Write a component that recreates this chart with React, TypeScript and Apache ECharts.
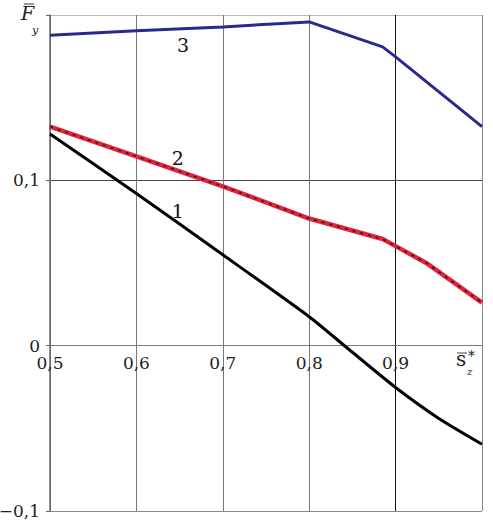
import React, { useEffect, useRef } from 'react';
import * as echarts from 'echarts';

const xMin = 0.5;
const xMax = 1.0;
const yMin = -0.1;
const yMax = 0.2;
const tickStep = 0.1;

const curve1X = [0.5, 0.6, 0.7, 0.8, 0.85, 0.9, 0.95, 1.0];
const curve1Y = [0.128, 0.092, 0.055, 0.0175, -0.004, -0.0253, -0.044, -0.0596];
const curve2X = [0.5, 0.6, 0.7, 0.8, 0.885, 0.9, 0.935, 1.0];
const curve2Y = [0.1325, 0.1145, 0.0964, 0.0769, 0.0645, 0.0602, 0.0502, 0.026];
const curve3X = [0.5, 0.6, 0.7, 0.8, 0.885, 0.9, 1.0];
const curve3Y = [0.1877, 0.1904, 0.1928, 0.1958, 0.1807, 0.1747, 0.1325];

const curveNames = ['1', '2', '3'];
const labelPos = [
  [0.648, 0.0813],
  [0.648, 0.1133],
  [0.654, 0.182],
];

const FONT = '"DejaVu Serif", "Liberation Serif", serif';

const GRID_TOP = 15;
const GRID_BOTTOM = 16;
const CHART_H = 527;

const zip = (xs: number[], ys: number[]) => xs.map((x, i) => [x, ys[i]]);

const fmt = (v: number) => {
  const r = Math.round(v * 10) / 10;
  if (r === 0) return '0';
  const s = Math.abs(r).toFixed(1).replace('.', ',');
  return r < 0 ? '\u2212' + s : s;
};

const nameLabel = (i: number) => ({
  symbol: 'circle',
  symbolSize: 0,
  silent: true,
  data: [
    {
      coord: labelPos[i],
      label: {
        show: true,
        formatter: curveNames[i],
        position: 'inside',
        color: '#111',
        fontFamily: FONT,
        fontSize: 19,
      },
    },
  ],
});

export default function App() {
  const ref = useRef<HTMLDivElement>(null);
  useEffect(() => {
    if (!ref.current) return;
    const chart = echarts.init(ref.current, undefined, { renderer: 'svg' });
    const plotH = CHART_H - GRID_TOP - GRID_BOTTOM;
    // distance from the bottom edge of the grid up to the zero line
    const zeroOffset = (plotH * (0 - yMin)) / (yMax - yMin);
    chart.setOption({
      animation: false,
      backgroundColor: '#fff',
      grid: {
        left: 50,
        right: 11,
        top: GRID_TOP,
        bottom: GRID_BOTTOM,
        containLabel: false,
        outerBoundsMode: 'none',
      },
      xAxis: {
        type: 'value',
        min: xMin,
        max: xMax,
        interval: tickStep,
        position: 'bottom',
        offset: -zeroOffset,
        axisLine: { show: true, onZero: false, lineStyle: { color: '#777', width: 1 } },
        axisTick: { show: false },
        axisLabel: {
          margin: 9,
          color: '#222',
          fontFamily: FONT,
          fontSize: 17,
          formatter: (v: number) => (v > 0.95 ? '' : fmt(v)),
        },
        splitLine: {
          show: true,
          lineStyle: { color: ['#777', '#777', '#777', '#777', '#111', '#888'], width: 1 },
        },
      },
      yAxis: {
        type: 'value',
        min: yMin,
        max: yMax,
        interval: tickStep,
        axisLine: { show: true, lineStyle: { color: '#666', width: 1.5 } },
        axisTick: { show: true, length: 4, lineStyle: { color: '#666' } },
        axisLabel: {
          margin: 10,
          color: '#222',
          fontFamily: FONT,
          fontSize: 17,
          formatter: (v: number) => (v > 0.15 ? '' : fmt(v)),
        },
        splitLine: {
          show: true,
          lineStyle: { color: ['#888', '#777', '#444', '#bbb'], width: 1 },
        },
      },
      series: [
        {
          type: 'line',
          name: curveNames[0],
          data: zip(curve1X, curve1Y),
          showSymbol: false,
          smooth: 0.2,
          lineStyle: { color: '#000', width: 3 },
          markPoint: nameLabel(0),
          z: 3,
        },
        {
          type: 'line',
          name: curveNames[1],
          data: zip(curve2X, curve2Y),
          showSymbol: false,
          lineStyle: { color: '#e8213a', width: 4.5 },
          markPoint: nameLabel(1),
          z: 3,
        },
        {
          type: 'line',
          name: curveNames[1] + '-dash',
          data: zip(curve2X, curve2Y),
          showSymbol: false,
          lineStyle: { color: '#222', width: 1.6, type: [3, 5] },
          z: 4,
        },
        {
          type: 'line',
          name: curveNames[2],
          data: zip(curve3X, curve3Y),
          showSymbol: false,
          lineStyle: { color: '#2a2a8c', width: 3 },
          markPoint: nameLabel(2),
          z: 3,
        },
      ],
      graphic: [
        {
          type: 'text',
          left: 21,
          top: 3,
          style: { text: 'F', font: 'italic 19px ' + FONT, fill: '#222' },
        },
        {
          type: 'line',
          shape: { x1: 24, y1: 4, x2: 34, y2: 4 },
          style: { stroke: '#333', lineWidth: 1 },
        },
        {
          type: 'text',
          left: 32,
          top: 25,
          style: { text: 'y', font: 'italic 11px ' + FONT, fill: '#222' },
        },
        {
          type: 'text',
          left: 456,
          top: 349,
          style: { text: 's', font: '20px ' + FONT, fill: '#222' },
        },
        {
          type: 'line',
          shape: { x1: 457, y1: 353, x2: 467, y2: 353 },
          style: { stroke: '#444', lineWidth: 1 },
        },
        {
          type: 'text',
          left: 468,
          top: 349,
          style: { text: '*', font: '14px ' + FONT, fill: '#222' },
        },
        {
          type: 'text',
          left: 467,
          top: 366,
          style: { text: 'z', font: 'italic 10px ' + FONT, fill: '#222' },
        },
      ],
    });
    return () => chart.dispose();
  }, []);
  return (
    <div
      ref={ref}
      style={{ position: 'fixed', left: 0, top: 0, width: 493, height: 527 }}
    />
  );
}
